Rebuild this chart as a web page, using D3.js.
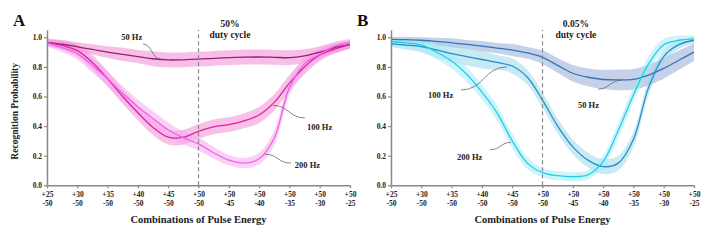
<!DOCTYPE html>
<html>
<head>
<meta charset="utf-8">
<script src="https://cdn.jsdelivr.net/npm/d3@7"></script>
<style>
  body { margin: 0; background: #fff; }
  text { font-family: "Liberation Serif", "DejaVu Serif", serif; font-weight: bold; fill: #222; }
</style>
</head>
<body>
<div id="chart"></div>
<script>
// positions along the x axis (tick index, half steps)
var steps = d3.range(0, 10.5, 0.5);
var tickTop = ["+25", "+30", "+35", "+40", "+45", "+50", "+50", "+50", "+50", "+50", "+50"];
var tickBottom = ["-50", "-50", "-50", "-50", "-50", "-50", "-45", "-40", "-35", "-30", "-25"];
var yTicks = [0, 0.2, 0.4, 0.6, 0.8, 1.0];

// panel A : 50% duty cycle
var a50 = [0.966, 0.953, 0.936, 0.918, 0.90, 0.885, 0.87, 0.855, 0.847, 0.848, 0.852, 0.858, 0.863, 0.866, 0.867, 0.865, 0.862, 0.875, 0.90, 0.93, 0.952];
var a50err = [0.025, 0.03, 0.03, 0.035, 0.04, 0.045, 0.045, 0.05, 0.05, 0.05, 0.05, 0.05, 0.05, 0.05, 0.05, 0.05, 0.05, 0.045, 0.04, 0.035, 0.03];
var a100 = [0.966, 0.945, 0.91, 0.83, 0.72, 0.60, 0.49, 0.39, 0.325, 0.325, 0.365, 0.395, 0.41, 0.435, 0.475, 0.56, 0.69, 0.80, 0.88, 0.92, 0.95];
var a100err = [0.02, 0.03, 0.04, 0.05, 0.05, 0.05, 0.05, 0.05, 0.05, 0.05, 0.05, 0.05, 0.05, 0.05, 0.055, 0.055, 0.055, 0.05, 0.04, 0.03, 0.025];
var a200 = [0.96, 0.93, 0.89, 0.81, 0.72, 0.62, 0.53, 0.45, 0.375, 0.32, 0.28, 0.22, 0.17, 0.15, 0.18, 0.32, 0.66, 0.82, 0.885, 0.94, 0.965];
var a200err = [0.02, 0.03, 0.04, 0.05, 0.05, 0.05, 0.05, 0.05, 0.05, 0.045, 0.045, 0.04, 0.035, 0.035, 0.04, 0.05, 0.05, 0.05, 0.04, 0.03, 0.025];

// panel B : 0.05% duty cycle
var b50 = [0.986, 0.984, 0.98, 0.972, 0.963, 0.952, 0.94, 0.927, 0.914, 0.895, 0.865, 0.81, 0.757, 0.73, 0.715, 0.712, 0.716, 0.745, 0.79, 0.845, 0.90];
var b50err = [0.015, 0.02, 0.02, 0.025, 0.03, 0.03, 0.035, 0.035, 0.04, 0.04, 0.045, 0.05, 0.055, 0.06, 0.065, 0.07, 0.07, 0.07, 0.07, 0.065, 0.06];
var b100 = [0.955, 0.947, 0.937, 0.915, 0.89, 0.87, 0.85, 0.83, 0.806, 0.73, 0.576, 0.40, 0.26, 0.17, 0.126, 0.15, 0.31, 0.66, 0.87, 0.95, 0.98];
var b100err = [0.02, 0.03, 0.04, 0.05, 0.06, 0.06, 0.06, 0.05, 0.05, 0.05, 0.05, 0.05, 0.05, 0.05, 0.05, 0.05, 0.05, 0.05, 0.04, 0.03, 0.02];
var b200 = [0.97, 0.962, 0.948, 0.90, 0.84, 0.75, 0.63, 0.49, 0.30, 0.15, 0.085, 0.065, 0.058, 0.07, 0.16, 0.37, 0.61, 0.82, 0.95, 0.98, 0.99];
var b200err = [0.02, 0.03, 0.04, 0.05, 0.05, 0.05, 0.05, 0.05, 0.05, 0.04, 0.03, 0.03, 0.03, 0.03, 0.04, 0.05, 0.05, 0.05, 0.04, 0.03, 0.02];

var panels = [
  { letter: "A", left: 47, duty: ["50%", "duty cycle"], dutyX: 6.04, yTitle: true,
    series: [
      { values: a50,  err: a50err,  line: "#9c1f6e", band: "#f08bd4", op: 0.55 },
      { values: a100, err: a100err, line: "#e41ea4", band: "#f083d2", op: 0.5 },
      { values: a200, err: a200err, line: "#ee62e4", band: "#f6aaf0", op: 0.55 }
    ],
    notes: [
      { text: "50 Hz",  tx: 2.45, ty: 0.985, from: [3.17, 0.955], to: [3.75, 0.853] },
      { text: "100 Hz", tx: 8.58, ty: 0.374, from: [8.51, 0.455], to: [7.46, 0.54] },
      { text: "200 Hz", tx: 8.18, ty: 0.117, from: [8.05, 0.15], to: [7.19, 0.21] }
    ] },
  { letter: "B", left: 391, duty: ["0.05%", "duty cycle"], dutyX: 6.1, yTitle: false,
    series: [
      { values: b50,  err: b50err,  line: "#3573b3", band: "#9fb3da", op: 0.6 },
      { values: b100, err: b100err, line: "#2a8ec3", band: "#92d5eb", op: 0.5 },
      { values: b200, err: b200err, line: "#22cfe9", band: "#a2ebf6", op: 0.55 }
    ],
    notes: [
      { text: "100 Hz", tx: 1.22, ty: 0.59, from: [2.31, 0.644], to: [3.83, 0.80] },
      { text: "200 Hz", tx: 2.18, ty: 0.17, from: [3.27, 0.24], to: [3.96, 0.29] },
      { text: "50 Hz",  tx: 6.17, ty: 0.52, from: [6.83, 0.65], to: [7.62, 0.71] }
    ] }
];

var svg = d3.select("#chart").append("svg")
  .attr("width", 716)
  .attr("height", 241);

var y = d3.scaleLinear().domain([0, 1.05]).range([185.3, 29.9]);
var smooth = d3.curveCatmullRom.alpha(0.5);

panels.forEach(function(p) {
  var x = d3.scaleLinear().domain([0, 10]).range([p.left, p.left + 303]);
  var g = svg.append("g");

  // bands first, then lines on top
  p.series.forEach(function(s) {
    var area = d3.area()
      .x(function(d, i) { return x(steps[i]); })
      .y0(function(d, i) { return y(d - s.err[i]); })
      .y1(function(d, i) { return y(d + s.err[i]); })
      .curve(smooth);
    g.append("path").datum(s.values)
      .attr("d", area)
      .attr("fill", s.band)
      .attr("fill-opacity", s.op);
  });
  p.series.forEach(function(s) {
    var line = d3.line()
      .x(function(d, i) { return x(steps[i]); })
      .y(function(d) { return y(d); })
      .curve(smooth);
    g.append("path").datum(s.values)
      .attr("d", line)
      .attr("fill", "none")
      .attr("stroke", s.line)
      .attr("stroke-width", 1.3);
  });

  // dashed divider at +50/-50
  g.append("line")
    .attr("x1", x(5)).attr("x2", x(5))
    .attr("y1", y(0)).attr("y2", y(1.05))
    .attr("stroke", "#888")
    .attr("stroke-width", 1.2)
    .attr("stroke-dasharray", "4,3");

  // axes
  var xAxis = g.append("g")
    .attr("transform", "translate(0," + y(0) + ")")
    .call(d3.axisBottom(x).tickValues(d3.range(11)).tickSize(3).tickSizeOuter(0).tickFormat(""));
  xAxis.selectAll(".tick text").remove();
  xAxis.selectAll(".tick").each(function(d) {
    var t = d3.select(this).append("text")
      .attr("text-anchor", "middle")
      .style("font-size", "7.5px");
    t.append("tspan").attr("x", 0).attr("y", 12).text(tickTop[d]);
    t.append("tspan").attr("x", 0).attr("y", 21).text(tickBottom[d]);
  });

  var yAxis = g.append("g")
    .attr("transform", "translate(" + x(0) + ",0)")
    .call(d3.axisLeft(y).tickValues(yTicks).tickSize(3).tickSizeOuter(0).tickFormat(d3.format(".1f")));
  yAxis.selectAll(".tick text").style("font-size", "7.5px").attr("x", -5);

  [xAxis, yAxis].forEach(function(ax) {
    ax.select(".domain").attr("stroke", "#888").attr("stroke-width", 1.5);
    ax.selectAll(".tick line").attr("stroke", "#888").attr("stroke-width", 1.2);
  });

  g.append("text")
    .attr("x", x(5)).attr("y", 223)
    .attr("text-anchor", "middle")
    .style("font-size", "10.5px")
    .text("Combinations of Pulse Energy");

  if (p.yTitle) {
    g.append("text")
      .attr("transform", "translate(18," + y(0.5) + ") rotate(-90)")
      .attr("text-anchor", "middle")
      .style("font-size", "9.5px")
      .text("Recognition Probability");
  }

  g.append("text")
    .attr("x", p.left - 34).attr("y", 26)
    .style("font-size", "17px")
    .style("fill", "#111")
    .text(p.letter);

  p.duty.forEach(function(s, i) {
    g.append("text")
      .attr("x", x(p.dutyX)).attr("y", 27 + i * 11)
      .attr("text-anchor", "middle")
      .style("font-size", "9.5px")
      .text(s);
  });

  // labels with curly leaders
  p.notes.forEach(function(n) {
    var x0 = x(n.from[0]), y0 = y(n.from[1]);
    var x1 = x(n.to[0]), y1 = y(n.to[1]);
    var dx = x1 - x0;
    g.append("path")
      .attr("d", "M" + x0 + "," + y0 + " C" + (x0 + dx * 0.5) + "," + y0 + " " + (x1 - dx * 0.5) + "," + y1 + " " + x1 + "," + y1)
      .attr("fill", "none")
      .attr("stroke", "#666")
      .attr("stroke-width", 0.8);
    g.append("text")
      .attr("x", x(n.tx)).attr("y", y(n.ty))
      .style("font-size", "8.5px")
      .text(n.text);
  });
});
</script>
</body>
</html>
